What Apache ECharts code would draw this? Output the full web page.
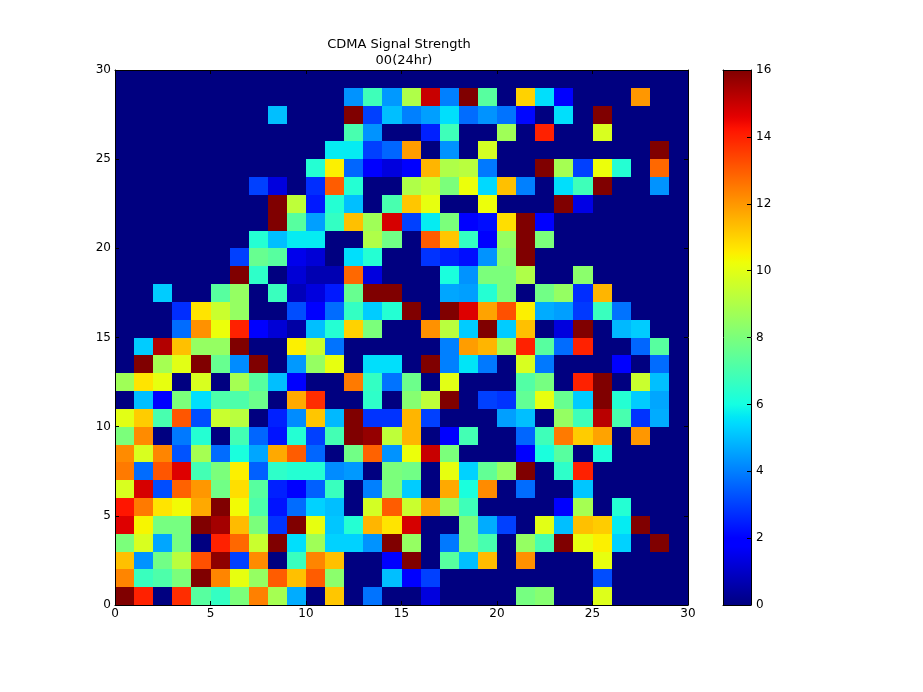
<!DOCTYPE html>
<html><head><meta charset="utf-8">
<style>html,body{margin:0;padding:0;background:#fff}#c{width:923px;height:692px}</style>
<script src="https://cdn.jsdelivr.net/npm/echarts@6/dist/echarts.min.js"></script>
</head><body><div id="c"></div>
<script>
const xTicks = [0, 5, 10, 15, 20, 25, 30];
const barTicks = [0, 2, 4, 6, 8, 10, 12, 14, 16];
const titleLines = ['CDMA Signal Strength', '00(24hr)'];
const row29=[0,0,0,0,0,0,0,0,0,0,0,0,0,0,0,0,0,0,0,0,0,0,0,0,0,0,0,0,0,0];
const row28=[0,0,0,0,0,0,0,0,0,0,0,0,4.3,6.8,4.4,9,15,4,16,7.3,0,11,5.5,1.8,0,0,0,12,0,0];
const row27=[0,0,0,0,0,0,0,0,5,0,0,0,16,3,5,4,4.5,5.5,3.7,4.3,3.8,2.1,0,5.5,0,16,0,0,0,0];
const row26=[0,0,0,0,0,0,0,0,0,0,0,0,7,4.3,0,0,2.5,6.8,0,0,8.7,0,14,0,0,9.8,0,0,0,0];
const row25=[0,0,0,0,0,0,0,0,0,0,0,5.7,5.7,3,3.6,11.9,0,4.3,0,9.7,0,0,0,0,0,0,0,0,16,0];
const row24=[0,0,0,0,0,0,0,0,0,0,6.3,10.5,3.6,2,1.3,1.9,11.5,9,9.2,3.9,0,0,16,8.8,3,10.2,6.3,0,12.8,0];
const row23=[0,0,0,0,0,0,0,3,1.3,0,2.7,13,6.3,0,0,9,9.5,8,10.2,5.4,11.3,4,0,5.5,6.8,16,0,0,4.3,0];
const row22=[0,0,0,0,0,0,0,0,16,9.3,2.4,6.3,5,0,7,11.2,10.1,0,0,10.2,0,0,0,16,1.4,0,0,0,0,0];
const row21=[0,0,0,0,0,0,0,0,16,7.3,4.5,6.6,11.3,8.7,14.8,3,5.7,8,2,2.2,10.8,16,2,0,0,0,0,0,0,0];
const row20=[0,0,0,0,0,0,0,6.3,5,5.7,5.7,0,0,9,7.8,0,13,11.2,6.6,2,8.5,16,8,0,0,0,0,0,0,0];
const row19=[0,0,0,0,0,0,3,7.6,7.3,1.5,1.2,0,5.5,6.3,0,0,2.8,2.5,2.2,4.3,8.2,16,0,0,0,0,0,0,0,0];
const row18=[0,0,0,0,0,0,16,6.5,0,1.2,0.7,0.7,12.8,1.3,0,0,0,6.1,4.3,8,8,9,0,0,8.3,0,0,0,0,0];
const row17=[0,0,5.2,0,0,7.3,8.5,0,6.7,0.8,1.3,2.4,7.6,16,16,0,0,4.6,4.5,6.3,8,0,7.8,8.5,2.7,11.5,0,0,0,0];
const row16=[0,0,0,2.7,10.7,9.5,8.5,0,0,3.2,2,3.7,6.6,5.2,6.3,16,0,16,14.7,11.8,13.2,10.5,4.7,4.5,2.9,6.7,3.8,0,0,0];
const row15=[0,0,0,3.7,12.1,10.2,14,1.9,1.2,0.5,5,6.3,11,8,0,0,12.1,9.2,5.2,16,5.2,11.3,0,1.3,16,0,4.9,5.2,0,0];
const row14=[0,5.2,15.3,11.3,8.5,8.5,16,0,0,10.5,9.5,3.8,0,0,0,0,0,4,11.9,11.5,8.8,14,7.3,3.7,14,0,0,3.6,7.3,0];
const row13=[0,16,8.8,10,16,7.6,4.2,16,0,4.4,8.5,10.1,0,5.5,5.5,0,16,4,5.6,3.9,0,9.8,3.9,0,0,0,2,0,3.7,0];
const row12=[8.7,10.7,10.1,0,9.8,0,8.8,7.3,5,2,0,0,12.5,6.6,3.8,7.7,0,10,0,0,0,7.2,7.9,0,14,16,0,9.5,5,0];
const row11=[0,5,2,8,5.5,7.1,7.1,7.7,0,11.7,13.8,0,0,6.5,0,8.2,9.3,16,0,3,2.8,7.5,10.1,7.6,5.2,16,6.3,5.2,4.6,0];
const row10=[10,11.1,7,13.1,3.2,9.5,9.2,0,2.5,4.2,11.2,4.9,16,2.8,2.8,11.5,3,0,0,0,4.5,5,0,8.5,6.8,15.2,7,2.8,4.7,0];
const row09=[8,12.2,0,3.9,6.3,0,6.9,3.6,2.3,6.3,3,6.9,16,15.7,9.3,11.5,0,2,6.9,0,0,3.6,6.8,12.5,11.1,11.8,0,12,0,0];
const row08=[12.2,9.8,12.3,3.3,8.8,3.7,6.1,4.6,11.7,13,3.6,0,7.8,12.9,4.3,10.2,15,8,0,0,0,2,6.1,7.3,0,6.2,0,0,0,0];
const row07=[12.5,3.7,13.1,14.7,6.9,8,10.5,3.5,6.5,6.3,6.3,4.2,4.4,0,8,7.8,0,10.1,5.3,7.5,8.5,16,0,6.5,14,0,0,0,0,0];
const row06=[9.8,14.8,3.2,12.9,12,7.8,10.8,7.3,2.5,2,3.5,6.7,0,4,8,5.2,0,11.7,6.1,12.2,0,3.7,0,0,5.1,0,0,0,0,0];
const row05=[14.2,12.5,10.7,10.3,11.7,16,10.3,7.1,2.3,3.7,5.3,5,0,9.7,13,9.5,11.8,8.5,6.8,0,0,0,0,2,8.8,0,6.3,0,0,0];
const row04=[14.7,10.4,7.9,7.9,16,15.5,11.4,8,2.8,16,10.1,5.1,6.3,11.5,10.7,14.8,0,0,8,4.7,3,0,10,5,11.3,11.1,5.7,16,0,0];
const row03=[8,9.8,4.6,7.9,0,14,12.8,9.5,16,5.5,8.7,5.3,5.3,4.3,16,8.5,0,3.9,8,7,0,8.5,7,16,10.1,10.5,5.3,0,16,0];
const row02=[11.3,4.3,7.8,9.2,13.2,15.8,3,12.2,0,6.7,12.3,11.3,0,0,1.9,16,0,7.3,5,11.4,0,12.1,0,0,0,10.1,0,0,0,0];
const row01=[12.3,6.7,7.1,8,16,12.3,10.1,8.5,13,11.3,13,8.3,0,0,5,1.9,3,0,0,0,0,0,0,0,0,3.2,0,0,0,0];
const row00=[16,14,0,13.8,7.3,6.6,8,12.4,8.8,4.7,0,11.2,0,3.8,0,0,1.3,0,0,0,0,7.9,8.2,0,0,9.9,0,0,0,0];
const rowsBottomUp=[row00,row01,row02,row03,row04,row05,row06,row07,row08,row09,row10,row11,row12,row13,row14,row15,row16,row17,row18,row19,row20,row21,row22,row23,row24,row25,row26,row27,row28,row29];

const vMax = 16;
function seg(t, pts){
  for(let i=1;i<pts.length;i++){
    if(t<=pts[i][0]){const a=pts[i-1],b=pts[i];return a[1]+(b[1]-a[1])*(t-a[0])/(b[0]-a[0]);}
  }
  return pts[pts.length-1][1];
}
function jet(t){
  t=Math.max(0,Math.min(1,t));
  const r=seg(t,[[0,0],[0.35,0],[0.66,1],[0.89,1],[1,0.5]]);
  const g=seg(t,[[0,0],[0.125,0],[0.375,1],[0.64,1],[0.91,0],[1,0]]);
  const b=seg(t,[[0,0.5],[0.11,1],[0.34,1],[0.65,0],[1,0]]);
  return 'rgb('+Math.round(r*255)+','+Math.round(g*255)+','+Math.round(b*255)+')';
}
const cells=[];
rowsBottomUp.forEach((row,y)=>row.forEach((v,x)=>cells.push([x,y,v])));
const stops=[];
for(let i=0;i<=128;i++) stops.push({offset:1-i/128,color:jet(i/128)});

const FONT='"DejaVu Sans"';
const hidden={show:false};
function frameAxis(o){
  return Object.assign({type:'value',min:0,max:30,interval:5,z:5,
    axisLine:{show:true,onZero:false,lineStyle:{color:'#000',width:1}},
    axisTick:{show:true,inside:true,length:4,lineStyle:{color:'#000',width:1}},
    axisLabel:{show:false},splitLine:hidden},o);
}
const labelStyle=m=>({show:true,color:'#000',fontFamily:FONT,fontSize:12,margin:m,formatter:v=>String(v)});
const titleStyle={color:'#000',fontFamily:FONT,fontSize:13,fontWeight:'normal',lineHeight:16};
const chart=echarts.init(document.getElementById('c'),null,{renderer:'canvas'});
chart.setOption({
  animation:false,
  backgroundColor:'#fff',
  title:[
    {text:titleLines[0],left:394,top:32,textAlign:'center',textStyle:titleStyle},
    {text:titleLines[1],left:399,top:48,textAlign:'center',textStyle:titleStyle}
  ],
  grid:[
    {left:115,top:70,width:573,height:535},
    {left:723,top:70,width:28,height:535}
  ],
  xAxis:[
    frameAxis({gridIndex:0,position:'bottom',axisLabel:labelStyle(3)}),
    frameAxis({gridIndex:0,position:'top'}),
    frameAxis({gridIndex:1,position:'bottom',min:0,max:1,interval:1,axisTick:hidden}),
    frameAxis({gridIndex:1,position:'top',min:0,max:1,interval:1,axisTick:hidden})
  ],
  yAxis:[
    frameAxis({gridIndex:0,position:'left',axisLabel:labelStyle(4)}),
    frameAxis({gridIndex:0,position:'right'}),
    frameAxis({gridIndex:1,position:'left',min:0,max:vMax,interval:2,axisTick:hidden}),
    frameAxis({gridIndex:1,position:'right',min:0,max:vMax,interval:2,axisLabel:labelStyle(5)})
  ],
  series:[
    {
      type:'custom',xAxisIndex:0,yAxisIndex:0,data:cells,clip:true,silent:true,
      encode:{x:0,y:1},
      renderItem(params,api){
        const x=api.value(0),y=api.value(1),v=api.value(2);
        const p0=api.coord([x,y+1]),p1=api.coord([x+1,y]);
        const l=Math.round(p0[0]),t=Math.round(p0[1]),r=Math.round(p1[0]),b=Math.round(p1[1]);
        return {type:'rect',shape:{x:l,y:t,width:r-l,height:b-t},
          style:{fill:jet(v/vMax),stroke:null}};
      }
    },
    {
      type:'custom',xAxisIndex:3,yAxisIndex:3,data:[[0,0,1,vMax]],clip:true,silent:true,
      encode:{x:[0,2],y:[1,3]},
      renderItem(params,api){
        const p0=api.coord([api.value(0),api.value(3)]),p1=api.coord([api.value(2),api.value(1)]);
        return {type:'rect',shape:{x:p0[0],y:p0[1],width:p1[0]-p0[0],height:p1[1]-p0[1]},
          style:{fill:new echarts.graphic.LinearGradient(0,0,0,1,stops),stroke:null}};
      }
    }
  ]
});
</script></body></html>
